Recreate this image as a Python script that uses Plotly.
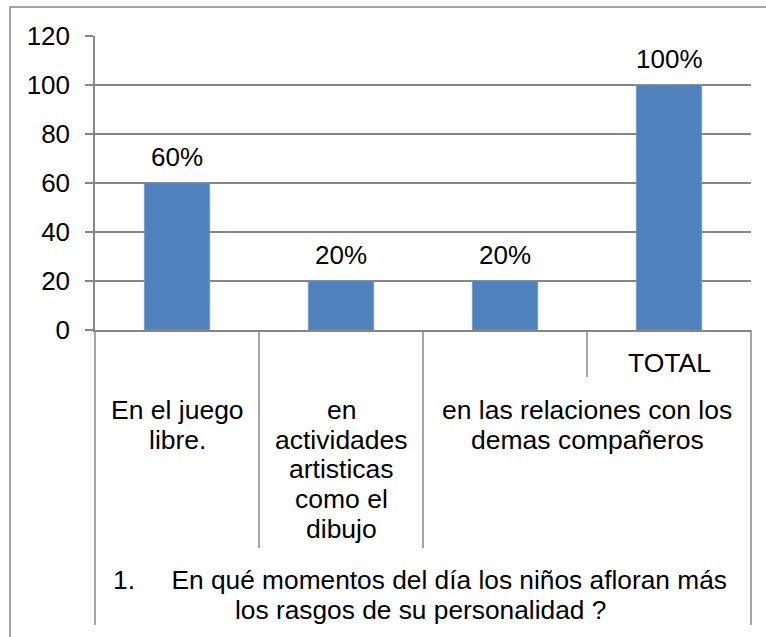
import plotly.graph_objects as go

# ---- data ----
categories = ["c1", "c2", "c3", "TOTAL"]
inner_labels = ["", "", "", "TOTAL"]
values = [60, 20, 20, 100]
value_labels = ["60%", "20%", "20%", "100%"]
group_labels = ["En el juego<br>libre.",
                "en<br>actividades<br>artisticas<br>como el<br>dibujo",
                "en las relaciones con los<br>demas compañeros"]
group_spans = [1, 1, 2]
outer_label = ("1.\u00a0\u00a0\u00a0\u00a0 En qué momentos del día los niños afloran más"
               "<br>los rasgos de su personalidad ?")
y_ticks = [0, 20, 40, 60, 80, 100, 120]

# ---- layout geometry (pixels) ----
W, H = 766, 637
L, R, T, B = 95, 15, 36, 307
plot_h = H - T - B
plot_w = W - L - R
FONT = "Liberation Sans, Arial, sans-serif"
FS = 26
FS_CAT = 26.5
LINE = 29.7
GRAY = "#868686"

def py(p):  # pixel y -> paper y
    return (H - B - p) / plot_h

def px(p):  # pixel x -> paper x
    return (p - L) / plot_w

N = len(categories)
row_bounds = [330, 377, 548, 625]  # row edges in px
row_first_line = [362.5, 410, 580]  # centre of first text line in each row

fig = go.Figure()
fig.add_trace(go.Bar(
    x=categories, y=values,
    marker=dict(color="#4F81BD", line=dict(color="#7FA3D0", width=0.5)),
    width=0.4, hoverinfo="skip",
))

annotations = []
shapes = []

def add_lines(text, xc, row, xshift=0, size=FS_CAT):
    for k, line in enumerate(text.split("<br>")):
        annotations.append(dict(x=xc, y=py(row_first_line[row] + k * LINE), xref="paper", yref="paper",
                                text=line, showarrow=False, yanchor="middle", xanchor="center",
                                xshift=xshift,
                                font=dict(family=FONT, size=size, color="black")))

# value labels
for c, v, t in zip(categories, values, value_labels):
    annotations.append(dict(x=c, y=v, xref="x", yref="y", text=t, showarrow=False,
                            yanchor="bottom", yshift=9,
                            font=dict(family=FONT, size=FS, color="black")))

# row 1 labels (inner)
for i, t in enumerate(inner_labels):
    if t:
        add_lines(t, (i + 0.5) / N, 0)

# row 2 labels (groups)
start = 0
group_edges = {0}
for t, s in zip(group_labels, group_spans):
    add_lines(t, (start + s / 2) / N, 1)
    start += s
    group_edges.add(start)

# row 3 label (outer)
add_lines(outer_label, 0.5, 2, xshift=-3, size=26.3)

# separators
for b in range(N + 1):
    if b in (0, N):
        bottom = row_bounds[3]
    elif b in group_edges:
        bottom = row_bounds[2]
    else:
        bottom = row_bounds[1]
    shapes.append(dict(type="line", xref="paper", yref="paper",
                       x0=b / N, x1=b / N, y0=py(row_bounds[0]), y1=py(bottom),
                       line=dict(color=GRAY, width=1.5)))

# outer chart border
shapes.append(dict(type="rect", xref="paper", yref="paper",
                   x0=px(10), x1=px(W + 20), y0=py(7), y1=py(H + 20),
                   line=dict(color=GRAY, width=1.5), layer="below"))

fig.update_layout(
    width=W, height=H,
    margin=dict(l=L, r=R, t=T, b=B),
    paper_bgcolor="white", plot_bgcolor="white",
    showlegend=False,
    annotations=annotations, shapes=shapes,
    bargap=0.6,
    font=dict(family=FONT, size=FS, color="black"),
)
fig.update_xaxes(type="category", showticklabels=False, showgrid=False,
                 showline=True, linecolor=GRAY, linewidth=1.5, ticks="", zeroline=False)
fig.update_yaxes(range=[0, 120], tickvals=y_ticks, showgrid=True, gridcolor=GRAY, gridwidth=1.5,
                 showline=True, linecolor=GRAY, linewidth=1.5, ticks="outside", ticklen=8,
                 tickcolor=GRAY, tickwidth=1.5, zeroline=False,
                 tickfont=dict(family=FONT, size=FS, color="black"), ticklabelstandoff=10)

fig.write_html("out.html", config={"displayModeBar": False},
               post_script="document.body.style.margin='0px';document.body.style.overflow='hidden';")
